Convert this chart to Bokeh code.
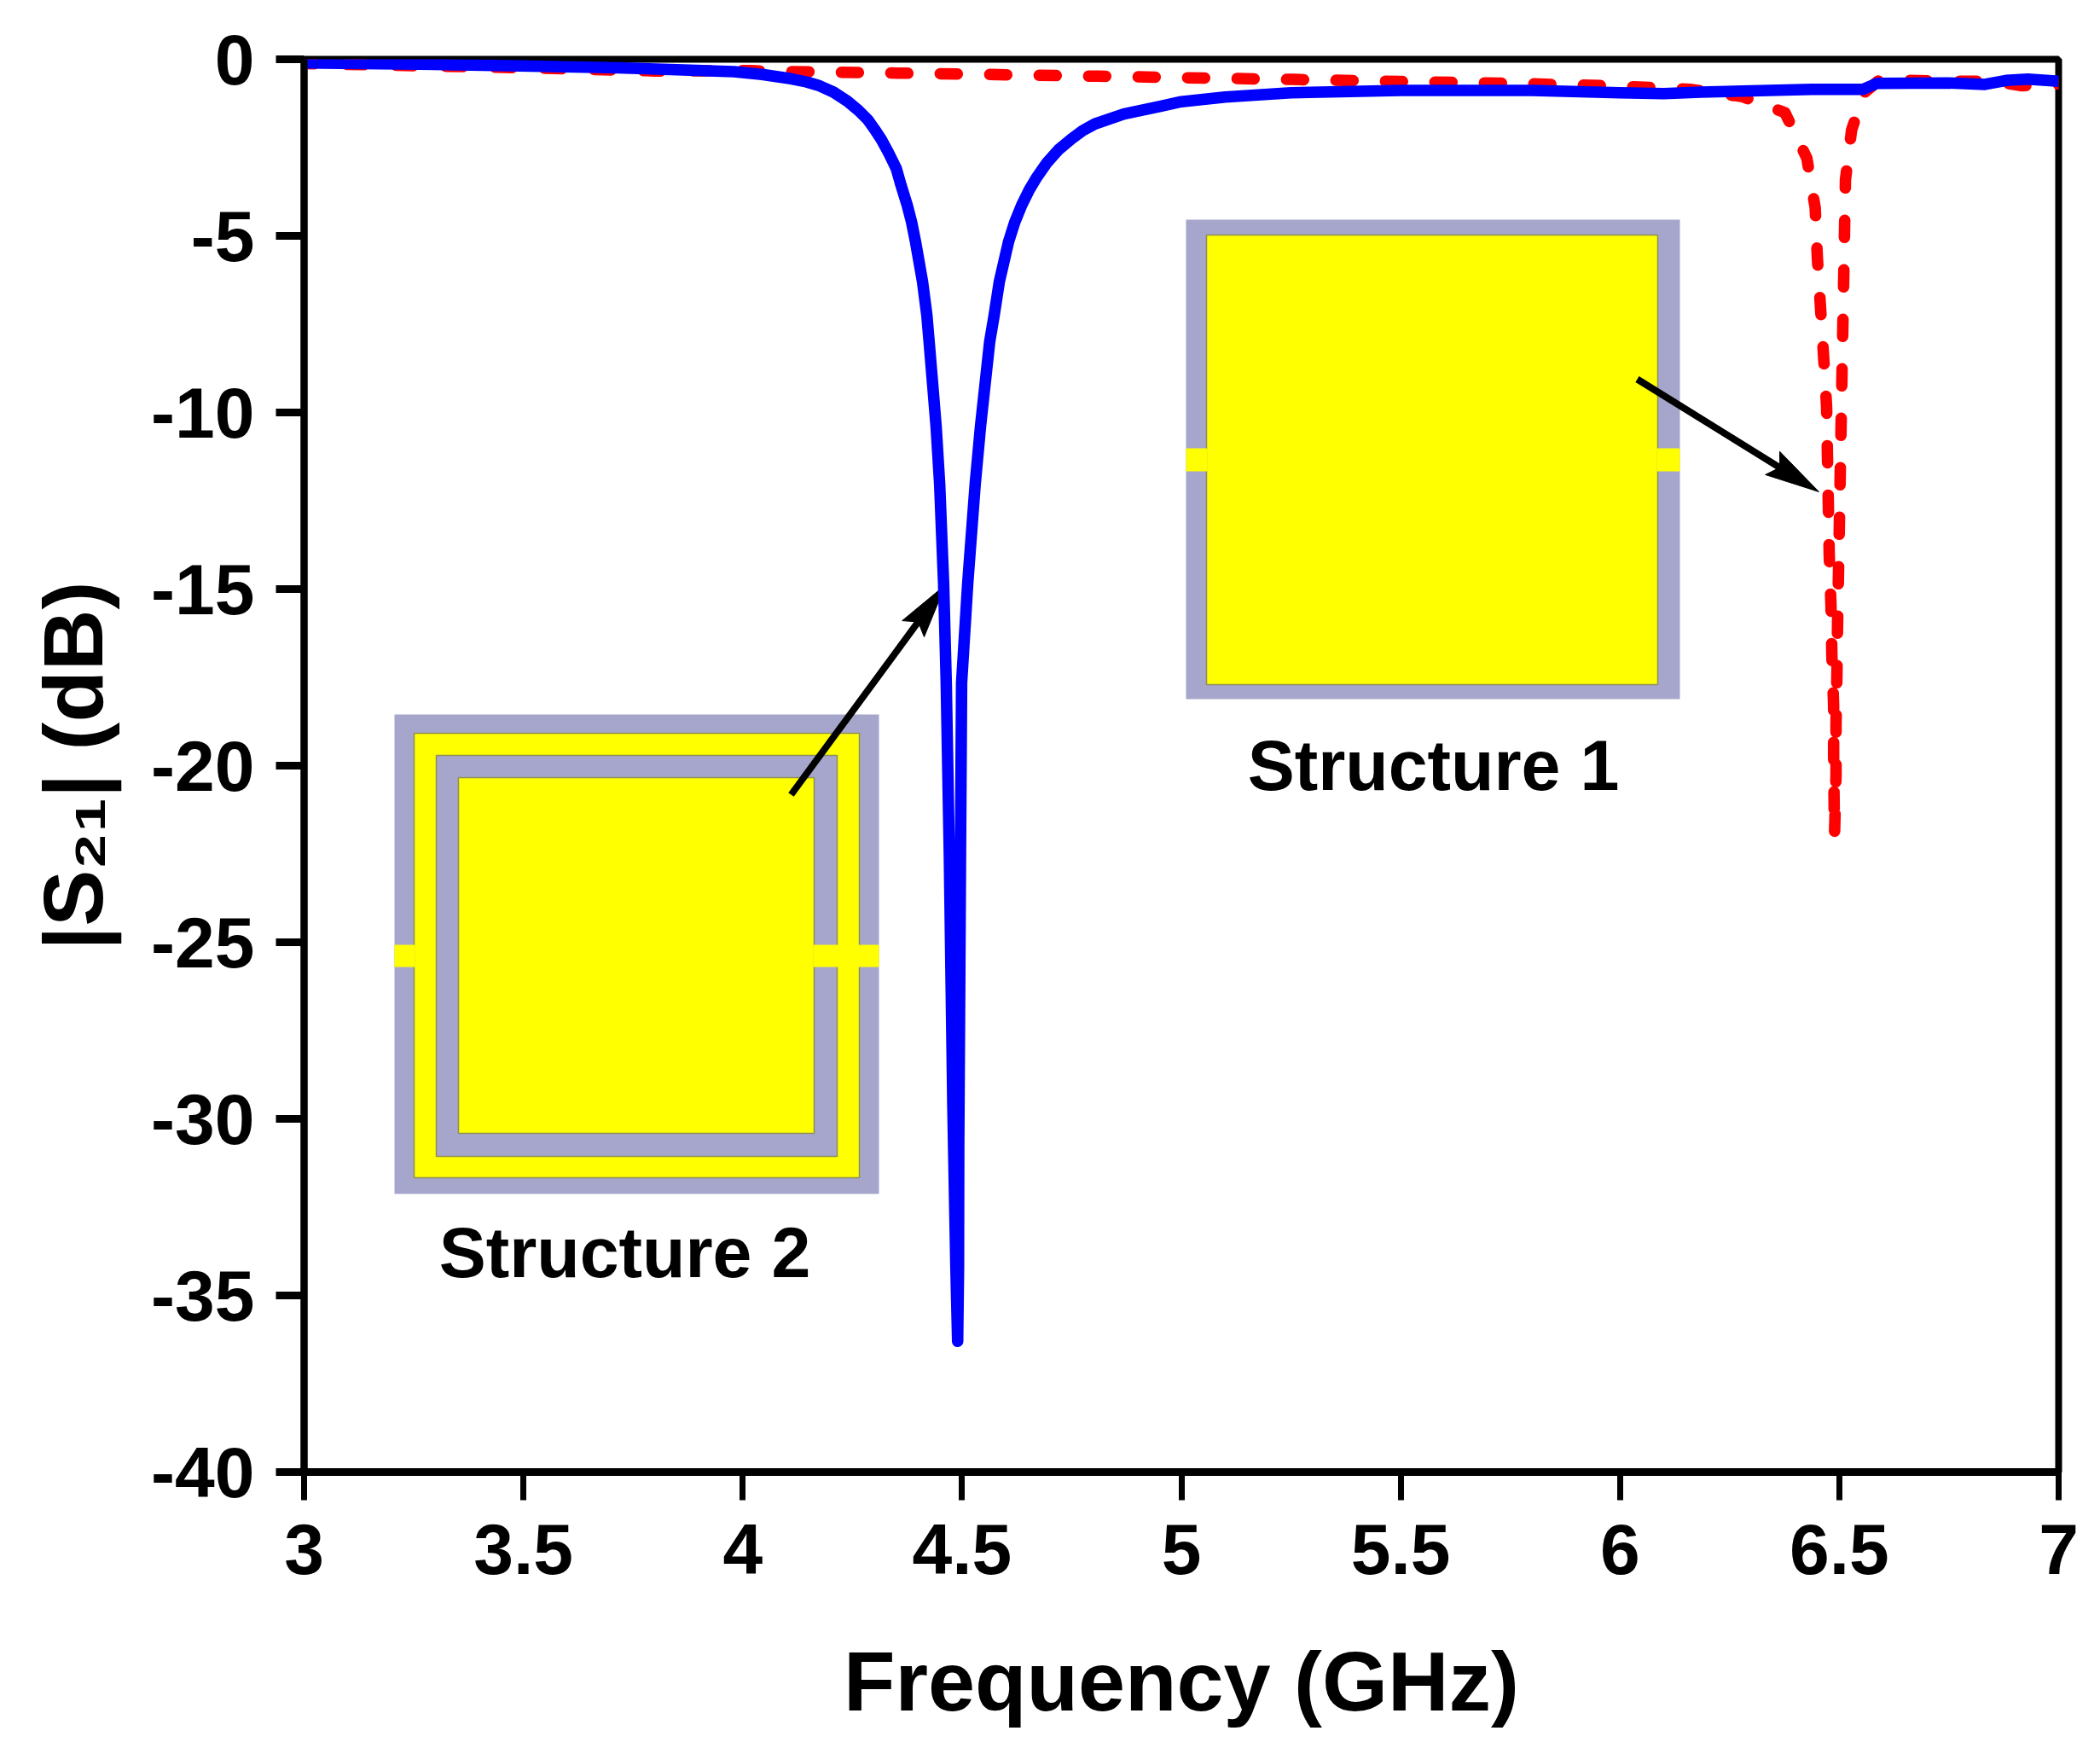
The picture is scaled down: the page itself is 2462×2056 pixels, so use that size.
from bokeh.plotting import figure
from bokeh.models import FixedTicker, Label
from bokeh.embed import file_html
from bokeh.resources import INLINE
import math

freq_s2 = [3.0, 3.22, 3.49, 3.716, 3.88, 3.98, 4.044, 4.11, 4.145, 4.175, 4.207, 4.239, 4.264, 4.285, 4.3, 4.316, 4.333,
           4.35, 4.361, 4.375, 4.385, 4.394, 4.41, 4.42, 4.425, 4.433, 4.441, 4.449, 4.458, 4.464, 4.471, 4.479, 4.486, 4.49,
           4.492, 4.4925, 4.4965, 4.499, 4.513, 4.53, 4.542, 4.563, 4.573, 4.585, 4.606, 4.62, 4.636, 4.653, 4.671, 4.694,
           4.72, 4.75, 4.775, 4.803, 4.869, 4.952, 5.0, 5.1, 5.25, 5.5, 5.8, 6.0, 6.1, 6.184, 6.32, 6.437, 6.554, 6.586, 6.748,
           6.832, 6.88, 6.93, 7.0]
db_s2 = [-0.10, -0.13, -0.19, -0.24, -0.31, -0.35, -0.43, -0.55, -0.64, -0.75, -0.93, -1.19, -1.45, -1.71, -1.97, -2.27, -2.66,
         -3.09, -3.57, -4.13, -4.61, -5.17, -6.30, -7.27, -8.0, -9.2, -10.41, -12.03, -14.83, -17.66, -22.49, -29.6, -34.2, -36.3,
         -34.2, -30.8, -22.49, -17.66, -14.83, -12.03, -10.41, -8.0, -7.27, -6.30, -5.17, -4.62, -4.13, -3.7, -3.33, -2.92,
         -2.56, -2.25, -2.02, -1.83, -1.55, -1.33, -1.2, -1.07, -0.95, -0.88, -0.88, -0.95, -0.97, -0.93, -0.89, -0.85, -0.85, -0.68, -0.67,
         -0.71, -0.60, -0.56, -0.62]

freq_s1 = [3.0, 3.5, 3.8, 4.02, 4.06, 4.355, 4.81, 4.92, 5.0, 5.25, 5.5, 5.75, 6.0, 6.16, 6.28, 6.376, 6.426,
           6.445, 6.45, 6.465, 6.471, 6.473, 6.475, 6.477, 6.481, 6.483, 6.487, 6.487, 6.489,
           6.4925, 6.4925, 6.4945, 6.496, 6.498, 6.5, 6.502, 6.504, 6.506, 6.51, 6.512, 6.514, 6.528, 6.557, 6.592,
           6.75, 6.85, 6.917, 7.0]
db_s1 = [-0.12, -0.24, -0.33, -0.32, -0.34, -0.39, -0.48, -0.5, -0.52, -0.57, -0.63, -0.68, -0.76, -0.85, -1.06, -1.51, -2.8,
         -4.2, -5.63, -8.57, -9.83, -11.26, -12.63, -14.03, -15.46, -16.86, -18.29, -19.69, -22.0,
         -20.27, -18.84, -17.46, -16.01, -14.64, -13.24, -11.81, -10.41, -8.99, -6.23, -4.78, -3.41, -2.0, -0.94, -0.58,
         -0.62, -0.62, -0.75, -0.7]

x_ticks = [3, 3.5, 4, 4.5, 5, 5.5, 6, 6.5, 7]
x_tick_labels = ["3", "3.5", "4", "4.5", "5", "5.5", "6", "6.5", "7"]
y_ticks = [0, -5, -10, -15, -20, -25, -30, -35, -40]
y_tick_labels = ["0", "-5", "-10", "-15", "-20", "-25", "-30", "-35", "-40"]

FONT = "Liberation Sans"
GRAY = "#a6a6cc"
YEL = "#ffff00"
EDGE = "#8e8e5a"


def fx(px):
    return 3 + (px - 356) / 514.25


def fy(py):
    return -(py - 69) / 41.4


p = figure(width=2454, height=2048, frame_width=2057, frame_height=1656,
           min_border_left=356, min_border_right=41, min_border_top=69, min_border_bottom=323,
           x_range=(3, 7), y_range=(-40, 0), output_backend="svg", toolbar_location=None,
           background_fill_color="white", border_fill_color="white")
p.grid.visible = False
p.outline_line_color = "black"
p.outline_line_width = 8

p.xaxis.ticker = FixedTicker(ticks=x_ticks)
p.yaxis.ticker = FixedTicker(ticks=y_ticks)
p.xaxis.major_label_overrides = dict(zip(x_ticks, x_tick_labels))
p.yaxis.major_label_overrides = dict(zip(y_ticks, y_tick_labels))
for ax, w, tw in ((p.xaxis, 9, 7), (p.yaxis, 8, 9)):
    ax.axis_line_color = "black"
    ax.axis_line_width = w
    ax.major_tick_line_color = "black"
    ax.major_tick_line_width = tw
    ax.major_tick_in = 0
    ax.major_tick_out = 33
    ax.minor_tick_line_color = None
    ax.major_label_text_font = FONT
    ax.major_label_text_font_style = "bold"
    ax.major_label_text_font_size = "84px"
    ax.major_label_text_color = "black"
    ax.axis_label_text_font = FONT
    ax.axis_label_text_font_style = "bold"
    ax.axis_label_text_font_size = "99px"
    ax.axis_label_text_color = "black"
p.xaxis.major_label_standoff = 28
p.yaxis.major_label_standoff = 25
p.xaxis.axis_label = "Frequency (GHz)"
p.xaxis.axis_label_standoff = 67
p.yaxis.axis_label = "|S\u2082\u2081| (dB)"
p.yaxis.axis_label_standoff = 33


def box(l, t, r, b, color, edge=None):
    p.quad(left=fx(l), right=fx(r), top=fy(t), bottom=fy(b), fill_color=color,
           line_color=edge, line_width=1.5 if edge else 0)


# Structure 1 inset
box(1390, 257, 1969, 819, GRAY)
box(1414, 275, 1943, 802, YEL, EDGE)
box(1390, 525, 1415, 552, YEL)
box(1942, 525, 1969, 552, YEL)
# Structure 2 inset
box(462, 837, 1030, 1399, GRAY)
box(485, 859, 1007, 1380, YEL, EDGE)
box(511, 885, 981, 1355, GRAY, EDGE)
box(537, 911, 954, 1328, YEL, EDGE)
box(462, 1107, 486, 1133, YEL)
box(953, 1107, 1030, 1133, YEL)


def arrow(x0, y0, x1, y1):
    d = math.hypot(x1 - x0, y1 - y0)
    ux, uy = (x1 - x0) / d, (y1 - y0) / d
    bx, by = x1 - 64 * ux, y1 - 64 * uy
    nx, ny = x1 - 54 * ux, y1 - 54 * uy
    p.line([fx(x0), fx(nx)], [fy(y0), fy(ny)], line_color="black", line_width=8)
    px_ = [x1, bx - 16 * uy, nx, bx + 16 * uy]
    py_ = [y1, by + 16 * ux, ny, by - 16 * ux]
    p.patch([fx(v) for v in px_], [fy(v) for v in py_], fill_color="black", line_color="black", line_width=1)


arrow(1919, 444, 2132, 576)
arrow(927, 931, 1108, 685)

p.line(freq_s1, db_s1, line_color="#ff0000", line_width=13.5, line_dash="20 38", line_dash_offset=8,
       line_cap="round", line_join="round")
p.line(freq_s2, db_s2, line_color="#0000ff", line_width=13.5, line_join="round")


def text(s, x, y, size, align="left"):
    p.add_layout(Label(x=x, y=y, text=s, text_font=FONT, text_font_style="bold",
                       text_font_size=f"{size}px", text_color="black", text_align=align,
                       text_baseline="alphabetic"))


text("Structure 1", fx(1680), fy(896), 82.5, "center")
text("Structure 2", fx(732), fy(1467), 82.5, "center")

open("out.html", "w").write(file_html(p, INLINE))
